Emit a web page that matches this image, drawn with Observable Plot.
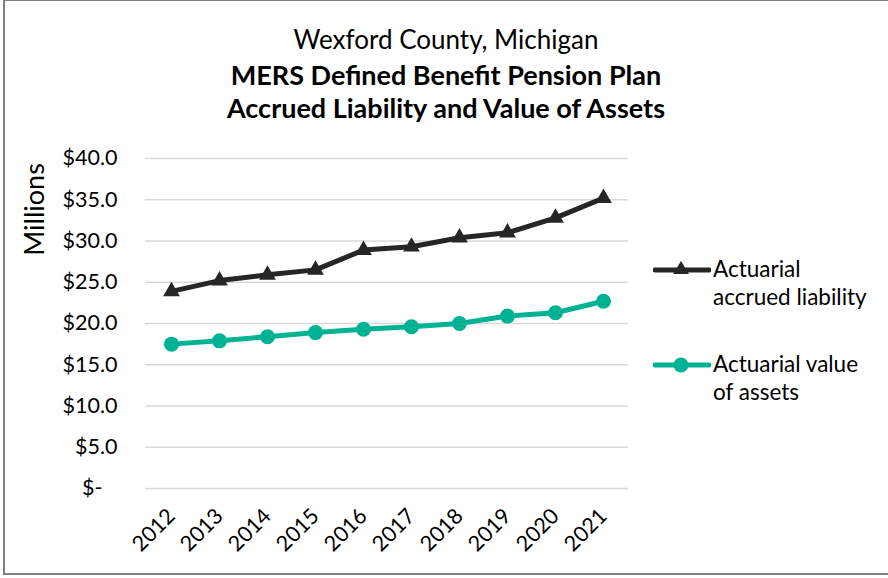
<!DOCTYPE html>
<html>
<head>
<meta charset="utf-8">
<script src="https://cdn.jsdelivr.net/npm/d3@7"></script>
<script src="https://cdn.jsdelivr.net/npm/@observablehq/plot@0.6"></script>
<style>
  html, body { margin: 0; padding: 0; background: #fff; }
  #wrap { position: relative; width: 888px; height: 578px; font-family: Lato, "Open Sans", sans-serif; color: #000; overflow: hidden; }
  #frame { position: absolute; left: 3px; top: -1px; width: 900px; height: 576px; box-sizing: border-box; border: 2px solid #7f7f7f; }
  .t { position: absolute; left: 0; width: 892px; text-align: center; white-space: nowrap; }
  #chart { position: absolute; left: 0; top: 140px; }
  .leg { position: absolute; font-size: 22.5px; line-height: 28px; }
  .leg svg { position: absolute; left: -60px; top: 3px; }
</style>
</head>
<body>
<div id="wrap">
  <div id="frame"></div>
  <div class="t" style="top:22px;font-size:26px;line-height:34px;">Wexford County, Michigan</div>
  <div class="t" style="top:58px;font-size:27px;line-height:34px;font-weight:bold;">MERS Defined Benefit Pension Plan</div>
  <div class="t" style="top:91px;font-size:27px;line-height:34px;font-weight:bold;">Accrued Liability and Value of Assets</div>
  <div id="chart"></div>
  <div id="legend"></div>
</div>
<script>
const years = ["2012","2013","2014","2015","2016","2017","2018","2019","2020","2021"];
const liability = [23.9, 25.2, 25.9, 26.5, 28.9, 29.3, 30.4, 31.0, 32.8, 35.2];
const assets = [17.5, 17.9, 18.4, 18.9, 19.3, 19.6, 20.0, 20.9, 21.3, 22.7];
const seriesNames = ["Actuarial accrued liability", "Actuarial value of assets"];
const seriesColors = ["#262626", "#00B294"];
const yTicks = [0, 5, 10, 15, 20, 25, 30, 35, 40];

const liabData = years.map((y, i) => ({year: y, value: liability[i]}));
const assetData = years.map((y, i) => ({year: y, value: assets[i]}));

const chart = Plot.plot({
  width: 888,
  height: 438,
  marginTop: 18,
  marginBottom: 90,
  marginLeft: 145,
  marginRight: 260,
  style: {background: "transparent", fontFamily: "Lato, 'Open Sans', sans-serif", color: "#000"},
  x: {type: "point", domain: years, padding: 0.5},
  y: {domain: [0, 40]},
  marks: [
    Plot.gridY(yTicks, {stroke: "#d9d9d9", strokeOpacity: 1, strokeWidth: 1.5}),
    Plot.axisY(yTicks.filter(d => d > 0), {tickSize: 0, tickPadding: 28, fontSize: 21.5, tickFormat: d => "$" + d.toFixed(1), label: null}),
    Plot.axisY([0], {tickSize: 0, tickPadding: 43, fontSize: 21.5, tickFormat: () => "$-", label: null}),
    Plot.text(["Millions"], {frameAnchor: "left", x: null, y: null, dx: -110, dy: -114, rotate: -90, fontSize: 27, textAnchor: "middle"}),
    Plot.axisX({tickSize: 0, tickPadding: 24, tickRotate: -45, fontSize: 21.5, label: null}),
    Plot.line(liabData, {x: "year", y: "value", stroke: seriesColors[0], strokeWidth: 5}),
    Plot.dot(liabData, {x: "year", y: "value", symbol: "triangle", r: 6.2, fill: seriesColors[0]}),
    Plot.line(assetData, {x: "year", y: "value", stroke: seriesColors[1], strokeWidth: 5}),
    Plot.dot(assetData, {x: "year", y: "value", symbol: "circle", r: 7.5, fill: seriesColors[1]})
  ]
});
document.getElementById("chart").appendChild(chart);

const legendPos = [{left: 713, top: 255}, {left: 713, top: 350}];
const legendLines = [["Actuarial", "accrued liability"], ["Actuarial value", "of assets"]];
const legend = document.getElementById("legend");
seriesNames.forEach((name, i) => {
  const d = document.createElement("div");
  d.className = "leg";
  d.style.left = legendPos[i].left + "px";
  d.style.top = legendPos[i].top + "px";
  d.innerHTML = legendLines[i].join("<br>");
  const sym = i === 0
    ? `<path d="M28,3 L36,16 L20,16 Z" fill="${seriesColors[i]}"/>`
    : `<circle cx="28" cy="12" r="7.5" fill="${seriesColors[i]}"/>`;
  d.insertAdjacentHTML("afterbegin", `<svg width="58" height="24" viewBox="0 0 58 24"><line x1="2" x2="56" y1="12" y2="12" stroke="${seriesColors[i]}" stroke-width="5" stroke-linecap="round"/>${sym}</svg>`);
  legend.appendChild(d);
});
</script>
</body>
</html>
